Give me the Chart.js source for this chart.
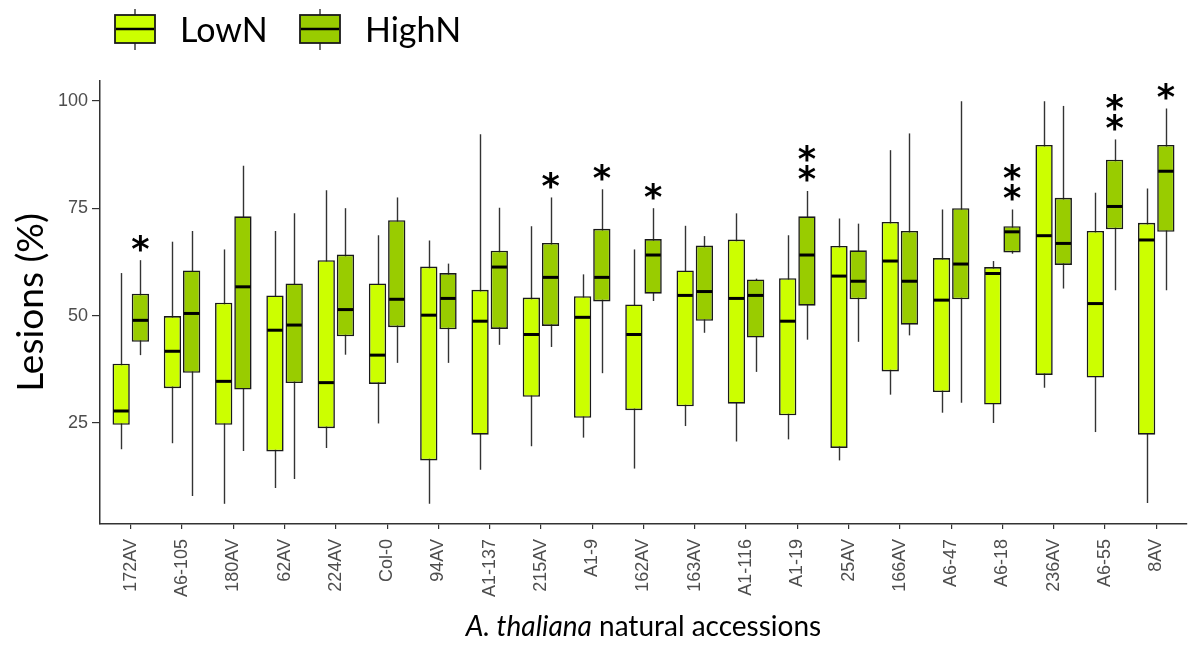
<!DOCTYPE html>
<html>
<head>
<meta charset="utf-8">
<script src="https://cdn.jsdelivr.net/npm/chart.js@4.4.0/dist/chart.umd.min.js"></script>
<style>
  html, body { margin: 0; padding: 0; background: #ffffff; }
  #wrap { width: 1190px; height: 653px; position: relative; }
</style>
</head>
<body>
<div id="wrap"><canvas id="c" width="1190" height="653"></canvas></div>
<script>
// ---------- data ----------
const categories = ['172AV','A6-105','180AV','62AV','224AV','Col-0','94AV','A1-137','215AV','A1-9','162AV','163AV','A1-116','A1-19','25AV','166AV','A6-47','A6-18','236AV','A6-55','8AV'];
const seriesNames = ['LowN', 'HighN'];
const yTicks = [25, 50, 75, 100];

// LowN five-number summaries
const lowMin    = [18.9, 20.3,  6.2,  9.9, 19.2, 24.9,  6.2, 14.1, 19.6, 21.6, 14.4, 24.3, 20.7, 21.2, 16.3, 31.6, 27.4, 25.0, 33.2, 22.9,  6.4];
const lowQ1     = [24.6, 33.1, 24.6, 18.4, 23.8, 34.1, 16.3, 22.3, 31.1, 26.2, 28.0, 28.9, 29.5, 26.8, 19.2, 37.0, 32.2, 29.3, 36.2, 35.6, 22.3];
const lowMedian = [27.8, 41.7, 34.7, 46.6, 34.4, 40.8, 50.1, 48.7, 45.6, 49.6, 45.6, 54.7, 54.0, 48.7, 59.2, 62.7, 53.6, 59.8, 68.6, 52.8, 67.6];
const lowQ3     = [38.8, 49.9, 53.0, 54.7, 62.9, 57.5, 61.4, 56.0, 54.2, 54.5, 52.6, 60.5, 67.7, 58.7, 66.2, 71.8, 63.4, 61.3, 89.7, 69.7, 71.6];
const lowMax    = [59.9, 67.2, 65.4, 69.7, 79.2, 68.7, 67.5, 92.2, 70.8, 59.6, 65.4, 70.9, 73.8, 68.7, 72.6, 88.5, 74.7, 62.7, 99.9, 78.6, 79.6];

// HighN five-number summaries
const highMin    = [40.8,  8.0, 18.5, 12.0, 40.9, 39.0, 39.0, 43.2, 42.7, 36.6, 53.4, 46.0, 36.9, 44.4, 43.9, 45.4, 29.7, 64.4, 56.3, 55.9, 55.9];
const highQ1     = [43.9, 36.7, 32.8, 34.3, 45.2, 47.3, 46.8, 46.9, 47.6, 53.3, 55.1, 48.8, 44.9, 52.3, 53.8, 47.9, 53.8, 64.7, 61.8, 70.1, 69.5];
const highMedian = [48.9, 50.5, 56.7, 47.8, 51.4, 53.8, 54.0, 61.3, 58.9, 58.9, 64.1, 55.6, 54.7, 64.1, 58.0, 58.0, 62.0, 69.5, 66.8, 75.4, 83.6];
const highQ3     = [55.1, 60.5, 73.1, 57.5, 64.2, 72.2, 59.9, 65.1, 66.9, 70.2, 67.8, 66.3, 58.4, 73.1, 65.2, 69.7, 75.0, 70.8, 77.4, 86.3, 89.7];
const highMax    = [62.9, 69.7, 84.9, 73.8, 75.0, 77.5, 62.1, 75.1, 77.5, 79.4, 75.0, 68.5, 58.6, 79.0, 71.4, 92.4, 99.9, 74.7, 98.8, 91.0, 98.2];

// significance stars above HighN boxes (count of '*')
const highStars  = [1, 0, 0, 0, 0, 0, 0, 0, 1, 1, 1, 0, 0, 2, 0, 0, 0, 2, 0, 2, 1];

// ---------- styling ----------
const lowColor = '#ccff00';
const highColor = '#99cc00';
const boxBorder = '#1a1a1a';
const whiskerColor = '#333333';
const tickGray = '#4d4d4d';

const summaries = [
  {min: lowMin, q1: lowQ1, med: lowMedian, q3: lowQ3, max: lowMax, stars: null},
  {min: highMin, q1: highQ1, med: highMedian, q3: highQ3, max: highMax, stars: highStars}
];

function boxData(q1, q3) {
  return categories.map((c, i) => ({x: i, y: [q1[i], q3[i]]}));
}

const boxPlugin = {
  id: 'boxparts',
  beforeDraw(chart) {
    const ctx = chart.ctx;
    ctx.save();
    ctx.fillStyle = '#ffffff';
    ctx.fillRect(0, 0, chart.width, chart.height);
    ctx.restore();
  },
  beforeDatasetsDraw(chart) {
    const ctx = chart.ctx;
    const ys = chart.scales.y;
    ctx.save();
    ctx.strokeStyle = whiskerColor;
    ctx.lineWidth = 1.4;
    chart.data.datasets.forEach((ds, d) => {
      const meta = chart.getDatasetMeta(d);
      const s = summaries[d];
      meta.data.forEach((bar, i) => {
        const x = Math.round(bar.x) + 0.5;
        ctx.beginPath();
        ctx.moveTo(x, ys.getPixelForValue(s.min[i]));
        ctx.lineTo(x, ys.getPixelForValue(s.max[i]));
        ctx.stroke();
      });
    });
    ctx.restore();
  },
  afterDatasetsDraw(chart) {
    const ctx = chart.ctx;
    const ys = chart.scales.y;
    ctx.save();
    chart.data.datasets.forEach((ds, d) => {
      const meta = chart.getDatasetMeta(d);
      const s = summaries[d];
      meta.data.forEach((bar, i) => {
        const y = ys.getPixelForValue(s.med[i]);
        ctx.strokeStyle = '#000000';
        ctx.lineWidth = 3;
        ctx.beginPath();
        ctx.moveTo(bar.x - bar.width / 2 + 1, y);
        ctx.lineTo(bar.x + bar.width / 2 - 1, y);
        ctx.stroke();
        if (s.stars && s.stars[i] > 0) {
          ctx.fillStyle = '#000000';
          ctx.font = 'bold 35px "DejaVu Sans"';
          ctx.textAlign = 'center';
          ctx.textBaseline = 'alphabetic';
          const m = ctx.measureText('*');
          const mid = (m.actualBoundingBoxAscent - m.actualBoundingBoxDescent) / 2;
          const top = ys.getPixelForValue(s.max[i]);
          for (let k = 0; k < s.stars[i]; k++) {
            const cy = top - 17 - 20 * k;
            ctx.fillText('*', bar.x, cy + mid);
          }
        }
      });
    });
    ctx.restore();
  },
  afterDraw(chart) {
    const ctx = chart.ctx;
    const area = chart.chartArea;
    ctx.save();
    // x-axis title with italic species name
    const p1 = 'A. thaliana';
    const p2 = ' natural accessions';
    const f1 = 'italic 28px Lato';
    const f2 = '28px Lato';
    ctx.font = f1; const w1 = ctx.measureText(p1).width;
    ctx.font = f2; const w2 = ctx.measureText(p2).width;
    let x0 = (area.left + area.right) / 2 - (w1 + w2) / 2;
    const ty = 627;
    ctx.fillStyle = '#000000';
    ctx.textBaseline = 'middle';
    ctx.textAlign = 'left';
    ctx.font = f1; ctx.fillText(p1, x0, ty);
    ctx.font = f2; ctx.fillText(p2, x0 + w1, ty);

    // legend
    const iconX = [115, 300];
    chart.data.datasets.forEach((ds, d) => {
      const ix = iconX[d];
      const bw = 40, top = 15, bot = 43;
      const cx = ix + bw / 2;
      ctx.strokeStyle = whiskerColor;
      ctx.lineWidth = 1.4;
      ctx.beginPath();
      ctx.moveTo(cx, 9); ctx.lineTo(cx, top);
      ctx.moveTo(cx, bot); ctx.lineTo(cx, 50);
      ctx.stroke();
      ctx.fillStyle = ds.backgroundColor;
      ctx.fillRect(ix, top, bw, bot - top);
      ctx.strokeStyle = boxBorder;
      ctx.lineWidth = 1.8;
      ctx.strokeRect(ix, top, bw, bot - top);
      ctx.strokeStyle = '#000000';
      ctx.lineWidth = 2.5;
      ctx.beginPath();
      ctx.moveTo(ix + 1, (top + bot) / 2); ctx.lineTo(ix + bw - 1, (top + bot) / 2);
      ctx.stroke();
      ctx.fillStyle = '#000000';
      ctx.font = '34px Lato';
      ctx.textAlign = 'left';
      ctx.textBaseline = 'middle';
      ctx.fillText(ds.label, ix + 65, 31);
    });
    ctx.restore();
  }
};

new Chart(document.getElementById('c'), {
  type: 'bar',
  data: {
    datasets: [
      {label: seriesNames[0], data: boxData(lowQ1, lowQ3), backgroundColor: lowColor, borderColor: boxBorder, borderWidth: 1.6, borderSkipped: false},
      {label: seriesNames[1], data: boxData(highQ1, highQ3), backgroundColor: highColor, borderColor: boxBorder, borderWidth: 1.6, borderSkipped: false}
    ]
  },
  options: {
    responsive: false,
    animation: false,
    devicePixelRatio: 1,
    categoryPercentage: 0.75,
    barPercentage: 0.9,
    layout: {padding: {top: 81, right: 3, left: 0, bottom: 0}},
    plugins: {legend: {display: false}, tooltip: {enabled: false}},
    scales: {
      x: {
        type: 'linear',
        min: -0.6,
        max: categories.length - 0.4,
        offset: false,
        afterBuildTicks(scale) { scale.ticks = categories.map((c, i) => ({value: i})); },
        afterFit(scale) { scale.height = 129; },
        grid: {display: true, drawOnChartArea: false, drawTicks: true, tickLength: 5, color: '#333333', lineWidth: 1.2, offset: false},
        border: {display: true, color: '#333333', width: 1.5},
        ticks: {
          autoSkip: false,
          maxRotation: 90,
          minRotation: 90,
          padding: 10,
          color: tickGray,
          font: {family: '"Liberation Sans", Arial', size: 18},
          callback: (v) => categories[v]
        }
      },
      y: {
        type: 'linear',
        min: 1.5,
        max: 104.6,
        afterBuildTicks(scale) { scale.ticks = yTicks.map(v => ({value: v})); },
        afterFit(scale) { scale.width = 100; },
        grid: {display: true, drawOnChartArea: false, drawTicks: true, tickLength: 8, color: '#333333', lineWidth: 1.2},
        border: {display: true, color: '#333333', width: 1.5},
        ticks: {
          padding: 4,
          color: tickGray,
          font: {family: '"Liberation Sans", Arial', size: 18}
        },
        title: {
          display: true,
          text: 'Lesions (%)',
          color: '#000000',
          font: {family: 'Lato', size: 37, lineHeight: 1.2},
          padding: {top: 9, bottom: 0}
        }
      }
    }
  },
  plugins: [boxPlugin]
});
</script>
</body>
</html>
